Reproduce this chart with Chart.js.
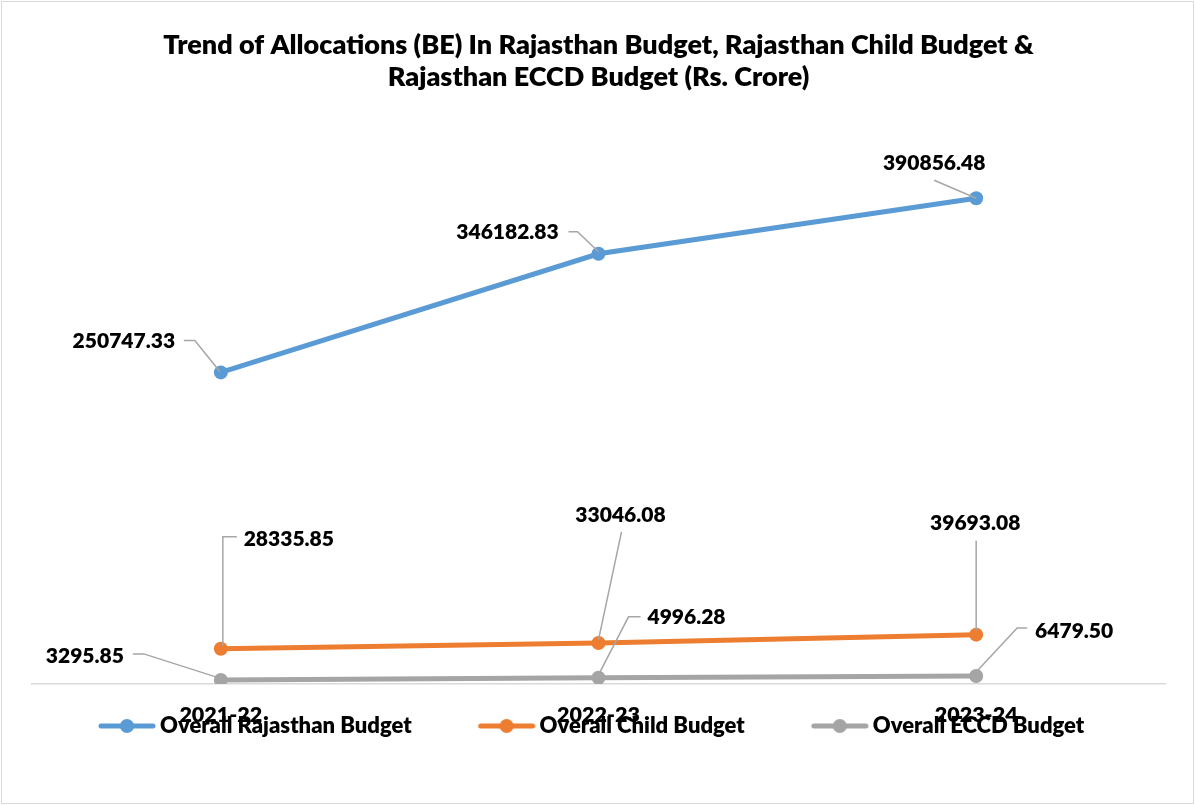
<!DOCTYPE html>
<html>
<head>
<meta charset="utf-8">
<script src="https://cdn.jsdelivr.net/npm/chart.js@4.4.0/dist/chart.umd.min.js"></script>
<style>
  body { margin: 0; background: #fff; }
  #budget-chart { display: block; }
</style>
</head>
<body>
<canvas id="budget-chart" width="1195" height="805"></canvas>
<script>
var years = ['2021-22', '2022-23', '2023-24'];
var rajasthanBudget = [250747.33, 346182.83, 390856.48];
var childBudget = [28335.85, 33046.08, 39693.08];
var ecceBudget = [3295.85, 4996.28, 6479.50];
var seriesNames = ['Overall Rajasthan Budget', 'Overall Child Budget', 'Overall ECCD Budget'];
var seriesColors = ['#5B9BD5', '#ED7D31', '#A5A5A5'];

var FONT = 'Lato, "Open Sans", sans-serif';
var WEIGHT = '800';

// label centre offset from its point, and the leader line path (all in px, relative to the point)
var labelPlacement = [
    [
        {dx: -97, dy: -31, leader: [[-37, -32], [-26, -32], [-1, -1]]},
        {dx: -91, dy: -22, leader: [[-30, -22], [-21, -22], [0, -2]]},
        {dx: -42, dy: -35, leader: [[-42, -18], [0, 0]]}
    ],
    [
        {dx: 68, dy: -110, leader: [[16, -112], [2, -112], [2, -3]]},
        {dx: 22, dy: -128, leader: [[23, -111], [0, -3]]},
        {dx: -1, dy: -111, leader: [[0, -94], [0, -4]]}
    ],
    [
        {dx: -136, dy: -24, leader: [[-88, -26], [-77, -26], [-2, -2]]},
        {dx: 88, dy: -61, leader: [[42, -61], [30, -61], [0, -3]]},
        {dx: 98, dy: -45, leader: [[51, -48], [41, -48], [0, -4]]}
    ]
];

var LEGEND_BOX = 107;

function legendMark(color) {
    var c = document.createElement('canvas');
    c.width = LEGEND_BOX + 14;
    c.height = 16;
    var g = c.getContext('2d');
    g.strokeStyle = color;
    g.lineWidth = 5;
    g.lineCap = 'round';
    g.beginPath();
    g.moveTo(c.width - 55, 8);
    g.lineTo(c.width - 3, 8);
    g.stroke();
    g.fillStyle = color;
    g.beginPath();
    g.arc(c.width - 29, 8, 7, 0, Math.PI * 2);
    g.fill();
    return c;
}

var dataLabels = {
    id: 'dataLabels',
    afterDatasetsDraw: function(chart) {
        var ctx = chart.ctx;
        ctx.save();
        chart.data.datasets.forEach(function(ds, i) {
            var meta = chart.getDatasetMeta(i);
            meta.data.forEach(function(pt, j) {
                var place = labelPlacement[i][j];
                ctx.strokeStyle = '#a6a6a6';
                ctx.lineWidth = 1.5;
                ctx.beginPath();
                place.leader.forEach(function(p, k) {
                    if (k === 0) ctx.moveTo(pt.x + p[0], pt.y + p[1]);
                    else ctx.lineTo(pt.x + p[0], pt.y + p[1]);
                });
                ctx.stroke();
                ctx.fillStyle = '#000';
                ctx.font = WEIGHT + ' 21px ' + FONT;
                ctx.textAlign = 'center';
                ctx.textBaseline = 'middle';
                ctx.fillText(ds.data[j].toFixed(2), pt.x + place.dx, pt.y + place.dy);
            });
        });
        ctx.restore();
    }
};

var chartBorder = {
    id: 'chartBorder',
    beforeDraw: function(chart) {
        var ctx = chart.ctx;
        ctx.save();
        ctx.fillStyle = '#fff';
        ctx.fillRect(0, 0, chart.width, chart.height);
        ctx.strokeStyle = '#d9d9d9';
        ctx.lineWidth = 1;
        ctx.strokeRect(1.5, 1.5, chart.width - 3, chart.height - 3);
        ctx.restore();
    }
};

// the x scale is squeezed so the legend sits over the year labels (as in the original);
// widen its box again afterwards so the labels are not clipped away
var tickRoom = {
    id: 'tickRoom',
    afterLayout: function(chart) {
        chart.scales.x.bottom = chart.scales.x.top + 60;
    }
};

function makeSeries(name, values, color) {
    return {
        label: name,
        data: values,
        borderColor: color,
        backgroundColor: color,
        borderWidth: 5,
        pointRadius: 7,
        pointHoverRadius: 7,
        pointBorderWidth: 0,
        tension: 0
    };
}

window.onload = function() {
    var ctx = document.getElementById('budget-chart');
    new Chart(ctx, {
        type: 'line',
        data: {
            labels: years,
            datasets: [
                makeSeries(seriesNames[0], rajasthanBudget, seriesColors[0]),
                makeSeries(seriesNames[1], childBudget, seriesColors[1]),
                makeSeries(seriesNames[2], ecceBudget, seriesColors[2])
            ]
        },
        options: {
            responsive: false,
            animation: false,
            layout: {padding: {left: 32, right: 30, top: 0, bottom: 58}},
            scales: {
                x: {
                    offset: true,
                    grid: {display: false},
                    border: {display: true, color: '#d9d9d9', width: 1.5},
                    ticks: {color: '#000', padding: 10, font: {family: FONT, size: 21.5, weight: WEIGHT}},
                    afterFit: function(scale) { scale.height = 21; }
                },
                y: {
                    display: false,
                    min: 0,
                    max: 450000
                }
            },
            plugins: {
                title: {
                    display: true,
                    text: ['Trend of Allocations (BE) In Rajasthan Budget, Rajasthan Child Budget &',
                           'Rajasthan ECCD Budget (Rs. Crore)'],
                    color: '#000',
                    font: {family: FONT, size: 27, weight: WEIGHT, lineHeight: 1.2},
                    padding: {top: 29, bottom: 31}
                },
                legend: {
                    position: 'bottom',
                    align: 'start',
                    fullSize: false,
                    labels: {
                        usePointStyle: true,
                        pointStyleWidth: LEGEND_BOX,
                        padding: 10,
                        color: '#000',
                        font: {family: FONT, size: 22, weight: WEIGHT},
                        generateLabels: function(chart) {
                            return chart.data.datasets.map(function(ds, i) {
                                return {
                                    text: ds.label,
                                    pointStyle: legendMark(ds.borderColor),
                                    fillStyle: ds.borderColor,
                                    strokeStyle: ds.borderColor,
                                    lineWidth: 0,
                                    fontColor: '#000',
                                    hidden: false,
                                    datasetIndex: i
                                };
                            });
                        }
                    }
                },
                tooltip: {enabled: false}
            }
        },
        plugins: [chartBorder, tickRoom, dataLabels]
    });
};
</script>
</body>
</html>
